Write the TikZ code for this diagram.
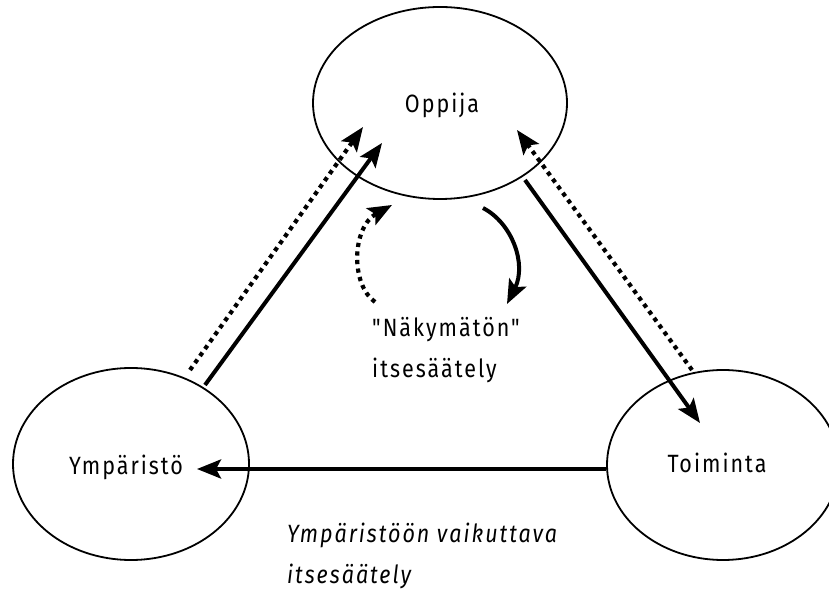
\documentclass[tikz,border=0pt]{standalone}
\usepackage{fontspec}
\setmainfont{Fira Sans}[FakeStretch=0.86, LetterSpace=8, Ligatures=TeXOff]
\usetikzlibrary{arrows.meta,shapes.geometric}
\begin{document}
\begin{tikzpicture}[x=1pt,y=1pt,
  oval/.style={ellipse,draw,line width=1.8pt,inner sep=0pt},
  txt/.style={inner sep=0pt,anchor=base,font=\fontsize{25}{30}\selectfont},
  tip/.style={-{Stealth[length=24pt,width=19pt,inset=5pt]}},
  solidarrow/.style={tip,line width=4pt},
  dotarrow/.style={tip,line width=4.2pt,dash pattern=on 4.2pt off 4.4pt},
  lbl/.style={inner sep=0pt,anchor=base west,font=\fontsize{25}{30}\selectfont}]
\useasboundingbox (0,0) rectangle (829,589);
% ellipses
\node[oval,minimum width=254pt,minimum height=192pt] (opp) at (440,486) {};
\node[txt] (opptxt) at (442,476) {Oppija};
\node[oval,minimum width=236pt,minimum height=192pt] (ymp) at (131,125) {};
\node[txt] (ymptxt) at (126,114) {Ympäristö};
\node[oval,minimum width=232pt,minimum height=190pt] (toi) at (723,124) {};
\node[txt] (toitxt) at (717,116) {Toiminta};
% arrow end points
\coordinate (a1s) at (205,204);  \coordinate (a1e) at (382,446);
\coordinate (a2s) at (190,219);  \coordinate (a2e) at (363,462);
\coordinate (a3s) at (525,409);  \coordinate (a3e) at (700,166);
\coordinate (a4s) at (692,219);  \coordinate (a4e) at (517,459);
\coordinate (a5s) at (toi.west |- 0,120);  \coordinate (a5e) at (197,120);
\coordinate (c1s) at (483,381);  \coordinate (c1e) at (507,285);
\coordinate (c2s) at (375,287);  \coordinate (c2e) at (392,384);
% straight arrows
\draw[solidarrow] (a1s) -- (a1e);
\draw[dotarrow] (a2s) -- (a2e);
\draw[solidarrow] (a3s) -- (a3e);
\draw[dotarrow] (a4s) -- (a4e);
\draw[solidarrow] (a5s) -- (a5e);
% curved arrows
\draw[solidarrow] (c1s) .. controls (512,366) and (527,325) .. (c1e);
\draw[dotarrow] (c2s) .. controls (350,305) and (352,362) .. (c2e);
% labels
\node[lbl] (invis1) at (372,252) {"Näkymätön"};
\node[lbl] (invis2) at (372,211) {itsesäätely};
\node[lbl,font=\fontsize{25}{30}\selectfont\itshape] (env1) at (287,47) {Ympäristöön vaikuttava};
\node[lbl,font=\fontsize{25}{30}\selectfont\itshape] (env2) at (287,6) {itsesäätely};
\end{tikzpicture}
\end{document}
